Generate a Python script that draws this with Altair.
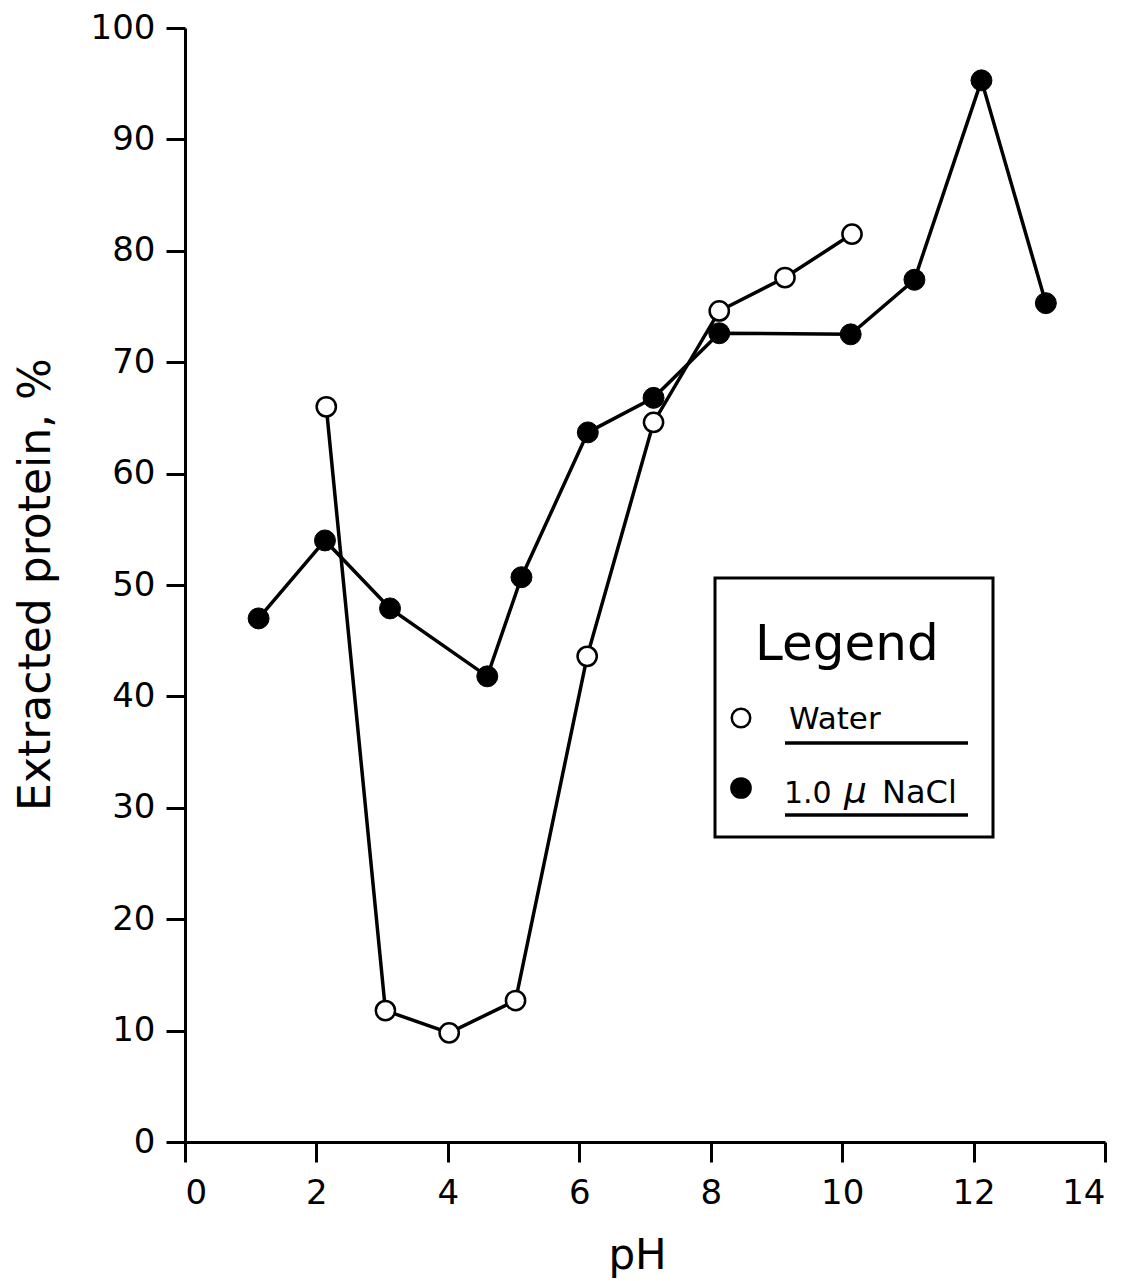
import altair as alt
import pandas as pd

water_ph = [2.15, 3.05, 4.02, 5.03, 6.12, 7.13, 8.13, 9.13, 10.15]
water_pct = [66.0, 11.8, 9.8, 12.7, 43.6, 64.6, 74.6, 77.6, 81.5]

nacl_ph = [1.12, 2.13, 3.12, 4.6, 5.12, 6.13, 7.13, 8.13, 10.13, 11.1, 12.12, 13.1]
nacl_pct = [47.0, 54.0, 47.9, 41.8, 50.7, 63.7, 66.8, 72.6, 72.5, 77.4, 95.3, 75.3]

x_ticks = [0, 2, 4, 6, 8, 10, 12, 14]
y_ticks = [0, 10, 20, 30, 40, 50, 60, 70, 80, 90, 100]

FONT = "DejaVu Sans"
W, H = 920, 1114

water = pd.DataFrame({"ph": water_ph, "pct": water_pct, "series": "Water"})
nacl = pd.DataFrame({"ph": nacl_ph, "pct": nacl_pct, "series": "1.0 μ NaCl"})

xs = alt.Scale(domain=[0, 14], nice=False)
ys = alt.Scale(domain=[0, 100], nice=False)

xenc = alt.X("ph:Q", scale=xs, axis=alt.Axis(
    title="pH", values=x_ticks, format="d", grid=False,
    domainColor="black", domainWidth=3, tickColor="black", tickWidth=3,
    tickSize=20, labelFontSize=34, labelFont=FONT, labelColor="black",
    labelPadding=14, titleFontSize=42, titleFont=FONT, titleFontWeight="normal",
    titleColor="black", titleBaseline="alphabetic", titleY=126, titleX=452))
yenc = alt.Y("pct:Q", scale=ys, axis=alt.Axis(
    title="Extracted protein, %", values=y_ticks, format="d", grid=False,
    domainColor="black", domainWidth=3, tickColor="black", tickWidth=3,
    tickSize=19, labelFontSize=34, labelFont=FONT, labelColor="black",
    labelPadding=11, titleFontSize=44, titleFont=FONT, titleFontWeight="normal",
    titleColor="black", titleBaseline="alphabetic", titleAlign="center",
    titleX=-136, titleY=556))

base_w = alt.Chart(water)
base_n = alt.Chart(nacl)

line_w = base_w.mark_line(color="black", strokeWidth=3.5).encode(x=xenc, y=yenc)
line_n = base_n.mark_line(color="black", strokeWidth=3.5).encode(x=xenc, y=yenc)
pts_w = base_w.mark_point(shape="circle", filled=True, fill="white", stroke="black",
                          strokeWidth=2.5, size=370, opacity=1).encode(x=xenc, y=yenc)
pts_n = base_n.mark_point(shape="circle", filled=True, fill="black", stroke="black",
                          strokeWidth=1, size=440, opacity=1).encode(x=xenc, y=yenc)

# Legend (drawn as decoration in pixel space)
one = pd.DataFrame({"a": [0]})
box = alt.Chart(one).mark_rect(fill="white", stroke="black", strokeWidth=3).encode(
    x=alt.value(530), x2=alt.value(808), y=alt.value(550), y2=alt.value(809))
leg_title = alt.Chart(one).mark_text(text="Legend", font=FONT, fontSize=50,
                                     align="left", baseline="alphabetic", color="black").encode(
    x=alt.value(570), y=alt.value(632))
leg_w_sym = alt.Chart(one).mark_point(shape="circle", filled=True, fill="white", stroke="black",
                                      strokeWidth=2.5, size=340, opacity=1).encode(
    x=alt.value(556), y=alt.value(690))
leg_n_sym = alt.Chart(one).mark_point(shape="circle", filled=True, fill="black",
                                      size=470, opacity=1).encode(
    x=alt.value(556), y=alt.value(760))
leg_w_txt = alt.Chart(one).mark_text(text="Water", font=FONT, fontSize=31,
                                     align="left", baseline="alphabetic", color="black").encode(
    x=alt.value(604), y=alt.value(701))
leg_n_txt1 = alt.Chart(one).mark_text(text="1.0", font=FONT, fontSize=30,
                                      align="left", baseline="alphabetic", color="black").encode(
    x=alt.value(599), y=alt.value(775))
leg_n_mu = alt.Chart(one).mark_text(text="μ", font=FONT, fontSize=36, fontStyle="italic",
                                    align="left", baseline="alphabetic", color="black").encode(
    x=alt.value(659), y=alt.value(775))
leg_n_txt2 = alt.Chart(one).mark_text(text="NaCl", font=FONT, fontSize=32,
                                      align="left", baseline="alphabetic", color="black").encode(
    x=alt.value(697), y=alt.value(775))
ul_w = alt.Chart(one).mark_rule(color="black", strokeWidth=3.5).encode(
    x=alt.value(600), x2=alt.value(783), y=alt.value(715))
ul_n = alt.Chart(one).mark_rule(color="black", strokeWidth=3.5).encode(
    x=alt.value(600), x2=alt.value(783), y=alt.value(787))

chart = alt.layer(
    line_w, line_n, pts_w, pts_n,
    box, leg_title, leg_w_sym, leg_n_sym, leg_w_txt, leg_n_txt1, leg_n_mu, leg_n_txt2, ul_w, ul_n
).properties(
    width=W, height=H,
    autosize=alt.AutoSizeParams(type="none"),
    padding={"left": 185, "top": 28, "right": 22, "bottom": 139},
    background="white",
).configure_view(stroke=None)

chart.save("out.html", embed_options={"renderer": "svg", "actions": False})
